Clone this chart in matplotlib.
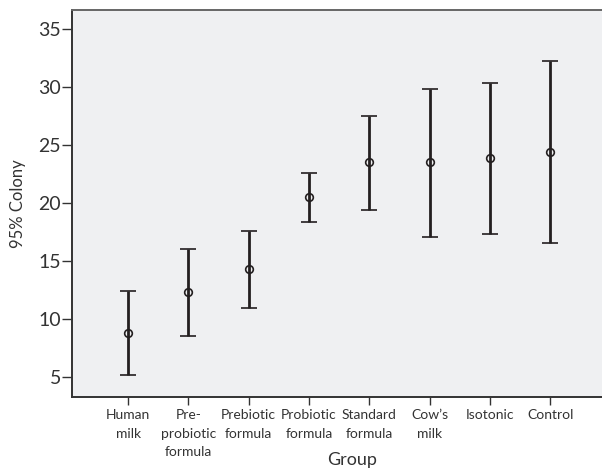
import numpy as np
import matplotlib.pyplot as plt

# groups and 95% CI
groups = ["Human\nmilk", "Pre-\nprobiotic\nformula", "Prebiotic\nformula",
          "Probiotic\nformula", "Standard\nformula", "Cow\u2019s\nmilk",
          "Isotonic", "Control"]
means = [8.76, 12.27, 14.3, 20.5, 23.49, 23.49, 23.9, 24.39]
lower = [5.12, 8.52, 10.92, 18.38, 19.39, 17.06, 17.32, 16.53]
upper = [12.42, 16.05, 17.6, 22.57, 27.51, 29.85, 30.37, 32.25]
y_ticks = [5, 10, 15, 20, 25, 30, 35]

plt.rcParams['font.family'] = ['Lato', 'DejaVu Sans']
text_col = '#333333'
line_col = '#231f20'

fig = plt.figure(figsize=(6.02, 4.73), dpi=100)
ax = fig.add_axes([72/602, 1-396.7/473, (605-72)/602, (396.7-10)/473])
ax.set_facecolor('#eff0f2')

x = np.arange(1, len(groups) + 1)
m = np.array(means)
yerr = [m - np.array(lower), np.array(upper) - m]
ax.errorbar(x, m, yerr=yerr, fmt='o', color=line_col, ecolor=line_col,
            elinewidth=2, capsize=5.6, capthick=2, markersize=5.5,
            markerfacecolor='none', markeredgewidth=1.2)

ax.set_xlim(0.07, 8.91)
ax.set_ylim(3.27, 36.65)
ax.set_yticks(y_ticks)
ax.set_yticklabels([str(t) for t in y_ticks], fontsize=14, color=text_col)
ax.set_xticks(x)
ax.set_xticklabels(groups, fontsize=10, color=text_col, linespacing=1.65)
ax.tick_params(axis='y', length=7, width=1, color=text_col, pad=1)
ax.tick_params(axis='x', length=6, width=1, color=text_col, pad=3)

for s in ['left', 'bottom']:
    ax.spines[s].set_color('#333333')
    ax.spines[s].set_linewidth(1.4)
ax.spines['top'].set_color('#666666')
ax.spines['top'].set_linewidth(1.4)
ax.spines['right'].set_visible(False)

ax.set_ylabel("95% Colony", fontsize=12, color=text_col)
ax.yaxis.set_label_coords(-0.086, 0.5)
ax.set_xlabel("Group", fontsize=13, color=text_col)
ax.xaxis.set_label_coords(0.525, -0.143)

fig.savefig("out.png", dpi=100)
